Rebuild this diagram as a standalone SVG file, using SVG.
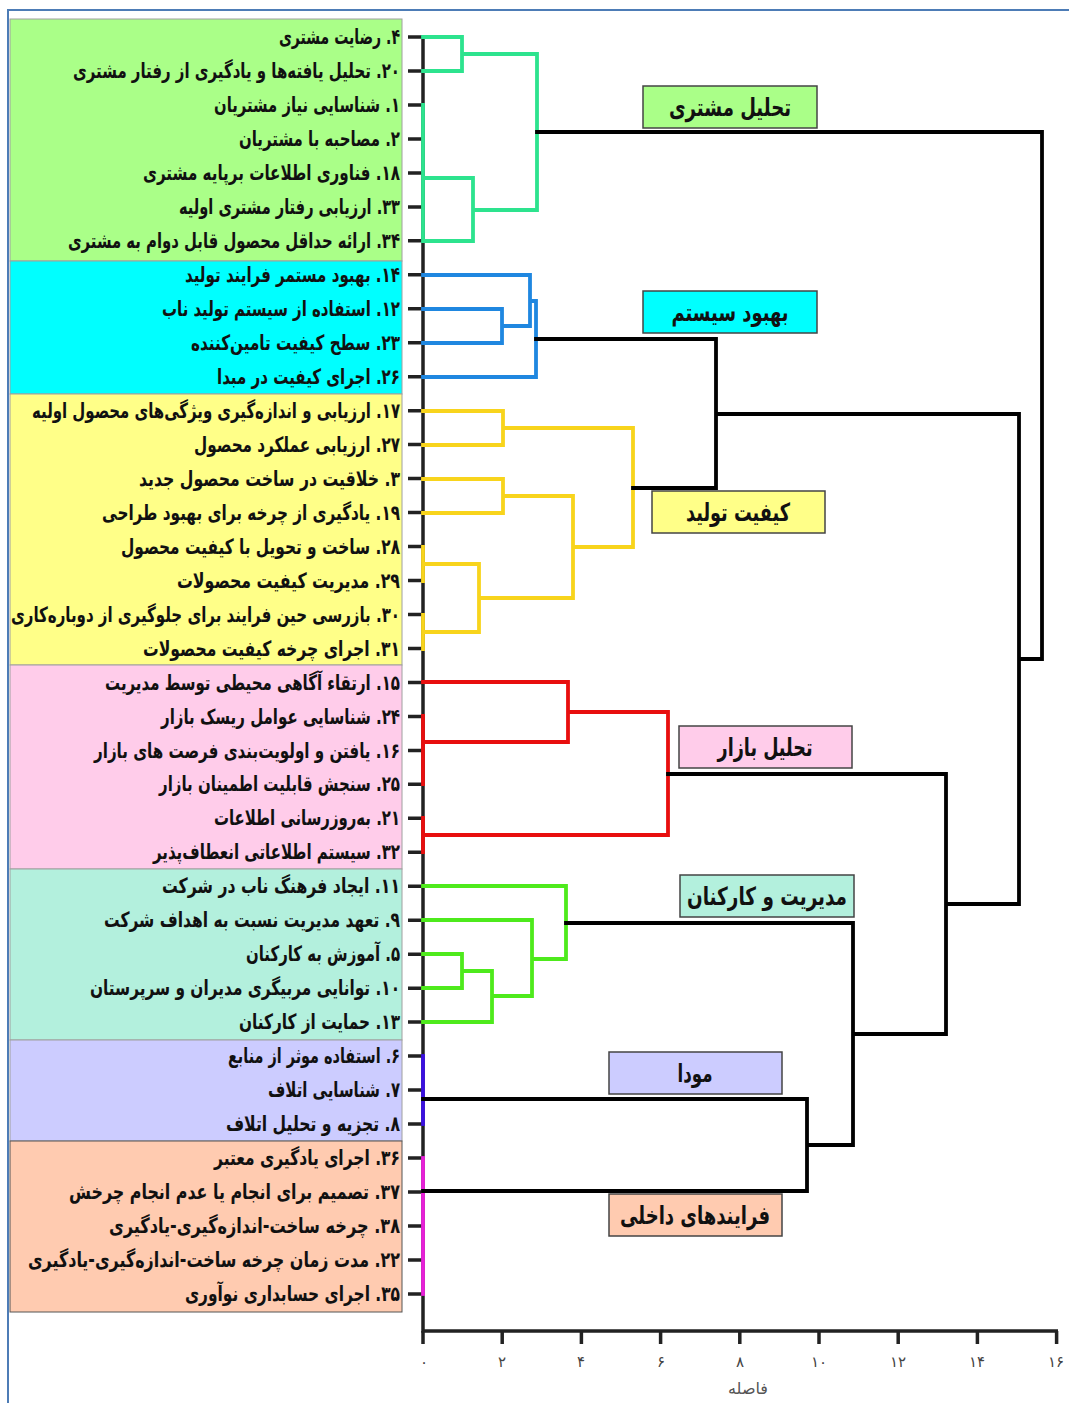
<svg xmlns="http://www.w3.org/2000/svg" width="1069" height="1403" viewBox="0 0 1069 1403">
<style>
.bg{fill:#ffffff}
.frame{fill:none;stroke:#4d7cb6;stroke-width:2}
.band{stroke:#a0a0a0;stroke-width:1}
.leaf{font-family:"DejaVu Sans",sans-serif;font-weight:bold;font-size:21px;fill:#111;direction:rtl}
.cl{font-family:"DejaVu Sans",sans-serif;font-weight:bold;font-size:25px;fill:#111;text-anchor:middle}
.box{stroke:#444;stroke-width:1.5}
.ax{fill:none;stroke:#222;stroke-width:3.5}
.tk{stroke:#222;stroke-width:3.5}
.tl{font-family:"DejaVu Sans",sans-serif;font-size:15px;fill:#444;text-anchor:middle}
.ln{fill:none;stroke-width:3.8;stroke-linejoin:miter;stroke-linecap:square}
.k{stroke:#000}
.g1{stroke:#2de38e}
.b1{stroke:#1f87e0}
.y1{stroke:#f8d41c}
.r1{stroke:#e80e0e}
.g2{stroke:#4eea1c}
.v1{stroke:#3a10e0}
.m1{stroke:#e820d8}
</style>
<rect class="bg" x="0" y="0" width="1069" height="1403"/>
<path class="frame" d="M8,1403 V10 H1069"/>

<g id="bands">
<rect class="band" x="10" y="19" width="392" height="242" fill="#aaff88"/>
<rect class="band" x="10" y="261" width="392" height="133" fill="#00ffff"/>
<rect class="band" x="10" y="394" width="392" height="271" fill="#ffff88"/>
<rect class="band" x="10" y="665" width="392" height="204" fill="#ffccea"/>
<rect class="band" x="10" y="869" width="392" height="171" fill="#b3f0dd"/>
<rect class="band" x="10" y="1040" width="392" height="101" fill="#ccccff"/>
<rect class="band" x="10" y="1141" width="392" height="171" fill="#ffcbb0" style="stroke:#555"/>
</g>

<g id="axis">
<path class="ax" d="M423,35 V1331 H1058"/>
<path class="tk" d="M423,1331 V1344 M502.2,1331 V1344 M581.4,1331 V1344 M660.6,1331 V1344 M739.8,1331 V1344 M819,1331 V1344 M898.2,1331 V1344 M977.4,1331 V1344 M1056.6,1331 V1344"/>
<path class="tk" d="M408,37 H423 M408,71 H423 M408,104.9 H423 M408,138.9 H423 M408,172.9 H423 M408,206.9 H423 M408,240.8 H423 M408,274.8 H423 M408,308.8 H423 M408,342.7 H423 M408,376.7 H423 M408,410.7 H423 M408,444.6 H423 M408,478.6 H423 M408,512.6 H423 M408,546.6 H423 M408,580.5 H423 M408,614.5 H423 M408,648.5 H423 M408,682.4 H423 M408,716.4 H423 M408,750.4 H423 M408,784.3 H423 M408,818.3 H423 M408,852.3 H423 M408,886.3 H423 M408,920.2 H423 M408,954.2 H423 M408,988.2 H423 M408,1022.1 H423 M408,1056.1 H423 M408,1090.1 H423 M408,1124 H423 M408,1158 H423 M408,1192 H423 M408,1226 H423 M408,1259.9 H423 M408,1293.9 H423"/>
<text class="tl" x="424" y="1367">۰</text>
<text class="tl" x="502" y="1367">۲</text>
<text class="tl" x="581" y="1367">۴</text>
<text class="tl" x="661" y="1367">۶</text>
<text class="tl" x="740" y="1367">۸</text>
<text class="tl" x="819" y="1367">۱۰</text>
<text class="tl" x="898" y="1367">۱۲</text>
<text class="tl" x="977" y="1367">۱۴</text>
<text class="tl" x="1056" y="1367">۱۶</text>
<text class="tl" x="748" y="1394" style="font-size:16px;fill:#555">فاصله</text>
</g>

<g id="connectors">
<path class="ln g1" d="M423,37 H462 V71 H423 M462,54 H537 V210 H473 M423,178 H473 V241 H423 M423,105 V241"/>
<path class="ln b1" d="M423,275 H530 V326 H502 M423,309 H502 V343 H423 M530,301 H536 V377 H423"/>
<path class="ln y1" d="M423,411 H503 V445 H423 M423,479 H503 V513 H423 M503,428 H633 V547 H573 M503,496 H573 V598 H479 M423,564 H479 V632 H423 M423,547 V581 M423,615 V649"/>
<path class="ln r1" d="M423,682 H568 V742 H423 M568,712 H668 V835 H423 M423,716 V784 M423,818 V852"/>
<path class="ln g2" d="M423,886 H566 V959 H532 M423,920 H532 V996 H492 M423,954 H462 V988 H423 M462,971 H492 V1022 H423"/>
<path class="ln v1" d="M423,1056 V1124"/>
<path class="ln m1" d="M423,1158 V1294"/>
<path class="ln k" d="M537,132 H1042 V659 H1019 M536,339 H716 V488 H633 M716,414 H1019 V904 H946 M668,774 H946 V1034 H853 M566,923 H853 V1145 H807 M423,1099 H807 V1191 H423"/>
</g>

<g id="leaves">
<g id="leaf-4"><text class="leaf" x="400" y="44" textLength="121" lengthAdjust="spacingAndGlyphs">۴. رضایت مشتری</text></g>
<g id="leaf-20"><text class="leaf" x="400" y="78" textLength="327" lengthAdjust="spacingAndGlyphs">۲۰. تحلیل یافته‌ها و یادگیری از رفتار مشتری</text></g>
<g id="leaf-1"><text class="leaf" x="400" y="112" textLength="186" lengthAdjust="spacingAndGlyphs">۱. شناسایی نیاز مشتریان</text></g>
<g id="leaf-2"><text class="leaf" x="400" y="146" textLength="161" lengthAdjust="spacingAndGlyphs">۲. مصاحبه با مشتریان</text></g>
<g id="leaf-18"><text class="leaf" x="400" y="180" textLength="257" lengthAdjust="spacingAndGlyphs">۱۸. فناوری اطلاعات برپایه مشتری</text></g>
<g id="leaf-33"><text class="leaf" x="400" y="214" textLength="221" lengthAdjust="spacingAndGlyphs">۳۳. ارزیابی رفتار مشتری اولیه</text></g>
<g id="leaf-34"><text class="leaf" x="400" y="248" textLength="332" lengthAdjust="spacingAndGlyphs">۳۴. ارائه حداقل محصول قابل دوام به مشتری</text></g>
<g id="leaf-14"><text class="leaf" x="400" y="282" textLength="215" lengthAdjust="spacingAndGlyphs">۱۴. بهبود مستمر فرایند تولید</text></g>
<g id="leaf-12"><text class="leaf" x="400" y="316" textLength="238" lengthAdjust="spacingAndGlyphs">۱۲. استفاده از سیستم تولید ناب</text></g>
<g id="leaf-23"><text class="leaf" x="400" y="350" textLength="209" lengthAdjust="spacingAndGlyphs">۲۳. سطح کیفیت تامین‌کننده</text></g>
<g id="leaf-26"><text class="leaf" x="400" y="384" textLength="183" lengthAdjust="spacingAndGlyphs">۲۶. اجرای کیفیت در مبدا</text></g>
<g id="leaf-17"><text class="leaf" x="400" y="418" textLength="368" lengthAdjust="spacingAndGlyphs">۱۷. ارزیابی و اندازه‌گیری ویژگی‌های محصول اولیه</text></g>
<g id="leaf-27"><text class="leaf" x="400" y="452" textLength="206" lengthAdjust="spacingAndGlyphs">۲۷. ارزیابی عملکرد محصول</text></g>
<g id="leaf-3"><text class="leaf" x="400" y="486" textLength="261" lengthAdjust="spacingAndGlyphs">۳. خلاقیت در ساخت محصول جدید</text></g>
<g id="leaf-19"><text class="leaf" x="400" y="520" textLength="298" lengthAdjust="spacingAndGlyphs">۱۹. یادگیری از چرخه برای بهبود طراحی</text></g>
<g id="leaf-28"><text class="leaf" x="400" y="554" textLength="279" lengthAdjust="spacingAndGlyphs">۲۸. ساخت و تحویل با کیفیت محصول</text></g>
<g id="leaf-29"><text class="leaf" x="400" y="588" textLength="223" lengthAdjust="spacingAndGlyphs">۲۹. مدیریت کیفیت محصولات</text></g>
<g id="leaf-30"><text class="leaf" x="400" y="622" textLength="389" lengthAdjust="spacingAndGlyphs">۳۰. بازرسی حین فرایند برای جلوگیری از دوباره‌کاری</text></g>
<g id="leaf-31"><text class="leaf" x="400" y="656" textLength="257" lengthAdjust="spacingAndGlyphs">۳۱. اجرای چرخه کیفیت محصولات</text></g>
<g id="leaf-15"><text class="leaf" x="400" y="690" textLength="295" lengthAdjust="spacingAndGlyphs">۱۵. ارتقاء آگاهی محیطی توسط مدیریت</text></g>
<g id="leaf-24"><text class="leaf" x="400" y="724" textLength="239" lengthAdjust="spacingAndGlyphs">۲۴. شناسایی عوامل ریسک بازار</text></g>
<g id="leaf-16"><text class="leaf" x="400" y="758" textLength="306" lengthAdjust="spacingAndGlyphs">۱۶. یافتن و اولویت‌بندی فرصت های بازار</text></g>
<g id="leaf-25"><text class="leaf" x="400" y="791" textLength="241" lengthAdjust="spacingAndGlyphs">۲۵. سنجش قابلیت اطمینان بازار</text></g>
<g id="leaf-21"><text class="leaf" x="400" y="825" textLength="186" lengthAdjust="spacingAndGlyphs">۲۱. به‌روزرسانی اطلاعات</text></g>
<g id="leaf-32"><text class="leaf" x="400" y="859" textLength="247" lengthAdjust="spacingAndGlyphs">۳۲. سیستم اطلاعاتی انعطاف‌پذیر</text></g>
<g id="leaf-11"><text class="leaf" x="400" y="893" textLength="238" lengthAdjust="spacingAndGlyphs">۱۱. ایجاد فرهنگ ناب در شرکت</text></g>
<g id="leaf-9"><text class="leaf" x="400" y="927" textLength="296" lengthAdjust="spacingAndGlyphs">۹. تعهد مدیریت نسبت به اهداف شرکت</text></g>
<g id="leaf-5"><text class="leaf" x="400" y="961" textLength="154" lengthAdjust="spacingAndGlyphs">۵. آموزش به کارکنان</text></g>
<g id="leaf-10"><text class="leaf" x="400" y="995" textLength="310" lengthAdjust="spacingAndGlyphs">۱۰. توانایی مربیگری مدیران و سرپرستان</text></g>
<g id="leaf-13"><text class="leaf" x="400" y="1029" textLength="161" lengthAdjust="spacingAndGlyphs">۱۳. حمایت از کارکنان</text></g>
<g id="leaf-6"><text class="leaf" x="400" y="1063" textLength="172" lengthAdjust="spacingAndGlyphs">۶. استفاده موثر از منابع</text></g>
<g id="leaf-7"><text class="leaf" x="400" y="1097" textLength="132" lengthAdjust="spacingAndGlyphs">۷. شناسایی اتلاف</text></g>
<g id="leaf-8"><text class="leaf" x="400" y="1131" textLength="174" lengthAdjust="spacingAndGlyphs">۸. تجزیه و تحلیل اتلاف</text></g>
<g id="leaf-36"><text class="leaf" x="400" y="1165" textLength="186" lengthAdjust="spacingAndGlyphs">۳۶. اجرای یادگیری معتبر</text></g>
<g id="leaf-37"><text class="leaf" x="400" y="1199" textLength="331" lengthAdjust="spacingAndGlyphs">۳۷. تصمیم برای انجام یا عدم انجام چرخش</text></g>
<g id="leaf-38"><text class="leaf" x="400" y="1233" textLength="291" lengthAdjust="spacingAndGlyphs">۳۸. چرخه ساخت-اندازه‌گیری-یادگیری</text></g>
<g id="leaf-22"><text class="leaf" x="400" y="1267" textLength="372" lengthAdjust="spacingAndGlyphs">۲۲. مدت زمان چرخه ساخت-اندازه‌گیری-یادگیری</text></g>
<g id="leaf-35"><text class="leaf" x="400" y="1301" textLength="215" lengthAdjust="spacingAndGlyphs">۳۵. اجرای حسابداری نوآوری</text></g>
</g>

<g id="clusters">
<g id="cl-customer"><rect class="box" x="643" y="86" width="174" height="42" fill="#aaff88"/><text class="cl" x="730" y="116" textLength="122" lengthAdjust="spacingAndGlyphs">تحلیل مشتری</text></g>
<g id="cl-system"><rect class="box" x="643" y="291" width="174" height="42" fill="#00ffff"/><text class="cl" x="730" y="321" textLength="117" lengthAdjust="spacingAndGlyphs">بهبود سیستم</text></g>
<g id="cl-quality"><rect class="box" x="652" y="491" width="173" height="42" fill="#ffff88"/><text class="cl" x="738" y="521" textLength="104" lengthAdjust="spacingAndGlyphs">کیفیت تولید</text></g>
<g id="cl-market"><rect class="box" x="679" y="726" width="173" height="42" fill="#ffccea"/><text class="cl" x="765" y="756" textLength="95" lengthAdjust="spacingAndGlyphs">تحلیل بازار</text></g>
<g id="cl-staff"><rect class="box" x="680" y="875" width="174" height="42" fill="#b3f0dd"/><text class="cl" x="767" y="905" textLength="160" lengthAdjust="spacingAndGlyphs">مدیریت و کارکنان</text></g>
<g id="cl-muda"><rect class="box" x="609" y="1052" width="173" height="42" fill="#ccccff"/><text class="cl" x="695" y="1082" textLength="35" lengthAdjust="spacingAndGlyphs">مودا</text></g>
<g id="cl-internal"><rect class="box" x="609" y="1194" width="173" height="42" fill="#ffcbb0"/><text class="cl" x="695" y="1224" textLength="150" lengthAdjust="spacingAndGlyphs">فرایندهای داخلی</text></g>
</g>
</svg>
